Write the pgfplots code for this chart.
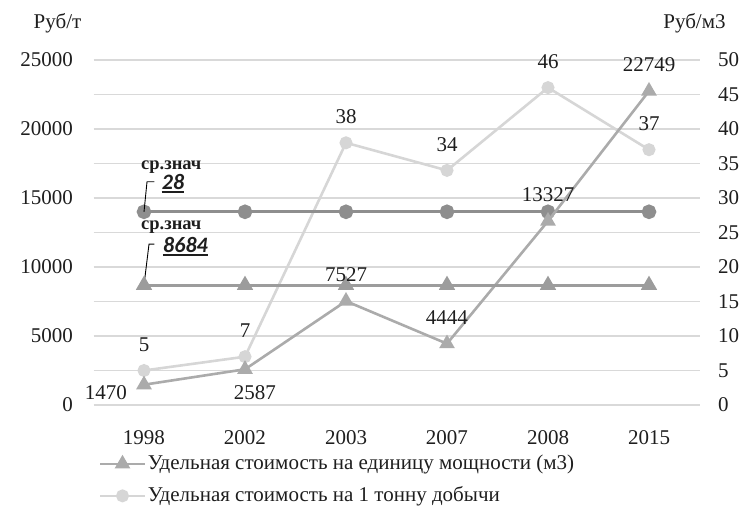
\documentclass[border=0pt]{standalone}
\usepackage{fontspec}
\setmainfont{Liberation Serif}
\newfontfamily\timesf{Liberation Serif}
\newfontfamily\calibri{Carlito}
\usepackage{pgfplots}
\pgfplotsset{compat=1.18}
\definecolor{gridc}{HTML}{D9D9D9}
\definecolor{tri}{HTML}{ABABAB}
\definecolor{circ}{HTML}{D6D6D6}
\definecolor{avgc}{HTML}{8E8E8E}
\definecolor{avgt}{HTML}{9C9C9C}
\definecolor{txt}{HTML}{1E1E1E}
\begin{document}
\timesf\fontsize{21bp}{25bp}\selectfont
\begin{tikzpicture}
\useasboundingbox (-93.5bp,-104bp) rectangle (649.5bp,405bp);
\pgfplotsset{
  base/.style={
    at={(0,0)}, anchor=south west, scale only axis, width=606bp, height=345bp,
    xmin=-0.5, xmax=5.5, clip=false,
    axis line style={draw=none}, major tick length=0pt, tick style={draw=none},
    /pgf/number format/assume math mode=true,
    /pgf/number format/1000 sep={},
    scaled y ticks=false,
    yticklabel={\timesf\pgfmathprintnumber[assume math mode=true,1000 sep={}]{\tick}},
    every tick label/.append style={font=\timesf\fontsize{21bp}{25bp}\selectfont, text=txt},
  },
  lab/.style={draw=none, mark=none, forget plot, nodes near coords, point meta=explicit symbolic,
    nodes near coords style={anchor=center, inner sep=1bp, text=txt, font=\timesf\fontsize{21bp}{25bp}\selectfont}},
}
% secondary axis (right, Rub/m3) drawn first (below)
\begin{axis}[base, ymin=0, ymax=50, ytick={0,5,...,50}, yticklabel pos=right,
  ymajorgrids, grid style={gridc, line width=1.2bp},
  xtick=\empty, yticklabel style={xshift=11.5bp}]
\addplot[circ, line width=2.6bp, mark=*, mark size=5.2bp, mark options={solid, fill=circ, draw=circ}]
  coordinates {(0,5) (1,7) (2,38) (3,34) (4,46) (5,37)};
\addplot[avgc, line width=3.4bp, mark=*, mark size=5.6bp, mark options={solid, fill=avgc, draw=avgc}]
  coordinates {(0,28) (1,28) (2,28) (3,28) (4,28) (5,28)};
\addplot[lab, nodes near coords style={yshift=26bp}]
  coordinates {(0,5)[5] (1,7)[7] (2,38)[38] (3,34)[34] (4,46)[46] (5,37)[37]};
\end{axis}
% primary axis (left, Rub/t)
\begin{axis}[base, ymin=0, ymax=25000, ytick={0,5000,...,25000},
  xtick={0,...,5}, xticklabels={1998,2002,2003,2007,2008,2015},
  yticklabel style={xshift=-13.5bp}, xticklabel style={yshift=-18.5bp},
  legend style={at={(0.00825,-0.2174)}, anchor=west, draw=none, fill=none, inner sep=0pt,
    nodes={inner sep=1.5bp, text=txt, font=\timesf\fontsize{21bp}{25bp}\selectfont}, row sep=11bp},
  legend cell align=left,
  legend image code/.code={\draw[mark repeat=2, mark phase=2, #1] plot coordinates {(0bp,0bp) (22.5bp,0bp) (45bp,0bp)};},
]
\addplot[tri, line width=2.6bp, mark=triangle*, mark size=6.5bp, mark options={solid, fill=tri, draw=tri}]
  coordinates {(0,1470) (1,2587) (2,7527) (3,4444) (4,13327) (5,22749)};
\addlegendentry{Удельная стоимость на единицу мощности (м3)}
\addlegendimage{circ, line width=2.6bp, mark=*, mark size=5.2bp, mark options={solid, fill=circ, draw=circ}}
\addlegendentry{Удельная стоимость на 1 тонну добычи}
\addplot[avgt, line width=3bp, mark=triangle*, mark size=6.5bp, mark options={solid, fill=avgt, draw=avgt}, forget plot]
  coordinates {(0,8684) (1,8684) (2,8684) (3,8684) (4,8684) (5,8684)};
\addplot[lab, nodes near coords style={yshift=26bp}]
  coordinates {(2,7527)[7527] (3,4444)[4444] (4,13327)[13327] (5,22749)[22749]};
\addplot[lab, nodes near coords style={xshift=-38bp, yshift=-8bp}]
  coordinates {(0,1470)[1470]};
\addplot[lab, nodes near coords style={xshift=10bp, yshift=-23bp}]
  coordinates {(1,2587)[2587]};
% callouts for averages
\draw[black, line width=0.9bp] (axis cs:0,14000) -- ++(3bp,30bp) -- ++(7.5bp,0bp);
\node[anchor=base west, inner sep=0pt, text=txt, font=\calibri\bfseries\itshape\fontsize{22bp}{26bp}\selectfont] (m1)
  at ([shift={(17.7bp,22.7bp)}]axis cs:0,14000) {28};
\draw[txt, line width=2bp] ([yshift=-3bp]m1.base west) -- ([yshift=-3bp]m1.base east);
\node[anchor=base west, inner sep=0pt, text=txt, font=\timesf\bfseries\fontsize{18.5bp}{22bp}\selectfont]
  at ([shift={(-3bp,42bp)}]axis cs:0,14000) {ср.знач};
\draw[black, line width=0.9bp] (axis cs:0,8684) -- ++(5bp,41bp) -- ++(5.5bp,0bp);
\node[anchor=base west, inner sep=0pt, text=txt, font=\calibri\bfseries\itshape\fontsize{22bp}{26bp}\selectfont] (m2)
  at ([shift={(19bp,33bp)}]axis cs:0,8684) {8684};
\draw[txt, line width=2bp] ([yshift=-3bp]m2.base west) -- ([yshift=-3bp]m2.base east);
\node[anchor=base west, inner sep=0pt, text=txt, font=\timesf\bfseries\fontsize{18.5bp}{22bp}\selectfont]
  at ([shift={(-3bp,56bp)}]axis cs:0,8684) {ср.знач};
\end{axis}
\node[text=txt, inner sep=0pt, font=\timesf\fontsize{21bp}{25bp}\selectfont] at (-36bp,382bp) {Руб/т};
\node[text=txt, inner sep=0pt, font=\timesf\fontsize{21bp}{25bp}\selectfont] at (601bp,382bp) {Руб/м3};
\end{tikzpicture}
\end{document}
